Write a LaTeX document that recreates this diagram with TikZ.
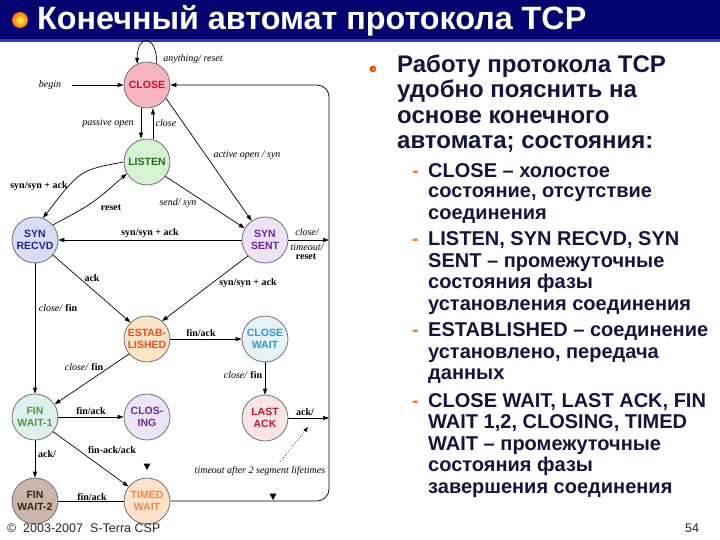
\documentclass[tikz,border=0pt]{standalone}
\usepackage{fontspec}
\setmainfont{Liberation Sans}
\newfontfamily\serifl{Liberation Serif}
\usetikzlibrary{arrows.meta,calc}
\definecolor{barnavy}{RGB}{4,4,112}
\definecolor{barstripe}{RGB}{58,58,184}
\definecolor{txtdark}{RGB}{20,20,60}
\definecolor{dashor}{RGB}{230,130,40}
\definecolor{edgegray}{RGB}{100,100,100}
\definecolor{fClose}{RGB}{245,181,191}\definecolor{tClose}{RGB}{200,16,46}
\definecolor{fListen}{RGB}{213,242,208}\definecolor{tListen}{RGB}{31,107,31}
\definecolor{fSR}{RGB}{217,220,245}\definecolor{tSR}{RGB}{26,42,138}
\definecolor{fSS}{RGB}{238,226,246}\definecolor{tSS}{RGB}{112,32,160}
\definecolor{fES}{RGB}{253,227,198}\definecolor{tES}{RGB}{232,80,26}
\definecolor{fCW}{RGB}{230,241,248}\definecolor{tCW}{RGB}{42,154,208}
\definecolor{fFA}{RGB}{221,240,238}\definecolor{tFA}{RGB}{74,154,58}
\definecolor{fCL}{RGB}{236,228,248}\definecolor{tCL}{RGB}{106,42,160}
\definecolor{fLA}{RGB}{249,228,230}\definecolor{tLA}{RGB}{192,26,58}
\definecolor{fFB}{RGB}{203,181,170}\definecolor{tFB}{RGB}{58,36,24}
\definecolor{fTW}{RGB}{253,225,200}\definecolor{tTW}{RGB}{232,138,74}
\begin{document}
\begin{tikzpicture}[x=1pt,y=-1pt,
  state/.style={circle,draw=edgegray,line width=0.7pt,minimum size=46pt,inner sep=0pt,
    align=center,font=\bfseries\fontsize{10.5}{12}\selectfont},
  conn/.style={draw=black,line width=0.7pt,-{Triangle[length=6pt,width=4pt]}},
  plain/.style={draw=black,line width=0.7pt},
  lab/.style={font=\serifl\fontsize{10}{11}\selectfont,inner sep=0pt},
  ilab/.style={font=\serifl\itshape\fontsize{10}{11}\selectfont,inner sep=0pt},
  blab/.style={font=\serifl\bfseries\fontsize{10}{11}\selectfont,inner sep=0pt},
  mainline/.style={anchor=base west,inner sep=0pt,text=txtdark,font=\bfseries\fontsize{24}{25}\selectfont},
  subline/.style={anchor=base west,inner sep=0pt,text=txtdark,font=\bfseries\fontsize{20}{21}\selectfont},
  dashmark/.style={anchor=base west,inner sep=0pt,text=dashor,font=\bfseries\fontsize{20}{21}\selectfont},
  foot/.style={anchor=base west,inner sep=0pt,text=black!85,font=\fontsize{12.5}{14}\selectfont}]
\useasboundingbox (0,0) rectangle (720,540);
\fill[white] (0,0) rectangle (720,540);
% title bar
\fill[barnavy] (0,0) rectangle (720,40);
\fill[barstripe] (0,39) rectangle (720,42.5);
\shade[inner color=yellow!70!white,outer color=orange!85!red] (20,20) circle (8);
\node[anchor=base west,inner sep=0pt,text=white,font=\bfseries\fontsize{32.3}{34}\selectfont] (title) at (37,30) {Конечный автомат протокола TCP};

% states
\node[state,fill=fClose,text=tClose] (c0) at (147,85) {CLOSE};
\node[state,fill=fListen,text=tListen] (l0) at (147,162) {LISTEN};
\node[state,fill=fSR,text=tSR] (sr) at (35,240) {SYN\\RECVD};
\node[state,fill=fSS,text=tSS] (ss) at (265,240) {SYN\\SENT};
\node[state,fill=fES,text=tES] (es) at (147,339) {ESTAB-\\LISHED};
\node[state,fill=fCW,text=tCW] (cw) at (265,339) {CLOSE\\WAIT};
\node[state,fill=fFA,text=tFA] (fa) at (35,417) {FIN\\WAIT-1};
\node[state,fill=fCL,text=tCL] (cl) at (147,417) {CLOS-\\ING};
\node[state,fill=fLA,text=tLA] (la) at (265,418) {LAST\\ACK};
\node[state,fill=fFB,text=tFB] (fb) at (35,501) {FIN\\WAIT-2};
\node[state,fill=fTW,text=tTW] (tw) at (147,501) {TIMED\\WAIT};

\coordinate (beg) at (72,85);
\coordinate (tr) at (329,85);
\coordinate (br) at (329,501);
\coordinate (d1) at (280,462);
\coordinate (d2) at (308,427);

% connectors
\draw[conn] (c0.65) .. controls +(0,-30) and +(0,-30) .. (c0.115);
\draw[conn] (beg) -- (c0);
\draw[conn] ([xshift=-6pt]c0.south) -- ([xshift=-6pt]l0.north);
\draw[conn] ([xshift=6pt]l0.north) -- ([xshift=6pt]c0.south);
\draw[conn] (c0.-35) -- (ss.125);
\draw[conn] (l0.180) .. controls (80,170) .. (sr.70);
\draw[conn] (sr.40) .. controls (92,204) .. (l0.210);
\draw[conn] (l0.-38) -- (ss.150);
\draw[conn] (ss) -- (sr);
\draw[conn] (ss) -- (ss -| tr);
\draw[conn] (sr.-40) -- (es.135);
\draw[conn] (ss.-137) -- (es.50);
\draw[conn] (sr) -- (fa);
\draw[conn] (es) -- (cw);
\draw[conn] (es.-140) -- (fa.33);
\draw[conn] (cw) -- (la);
\draw[conn] (la) -- (la -| tr);
\draw[conn] (fa) -- (cl);
\draw[conn] (fa.-39) -- (tw.142);
\draw[conn] (fa) -- (fb);
\draw[plain] (fb) -- (tw);
\draw[conn,rounded corners=12pt] (tw) -- (br) -- (tr) -- (c0);
\draw[line width=0.7pt,dotted,-{Triangle[length=5pt,width=3.5pt]}] (d1) -- (d2);
% stray arrow tips
\fill (143.5,463.5) -- (150.5,463.5) -- (147,470) -- cycle;
\fill (269.5,493.5) -- (276.5,493.5) -- (273,500) -- cycle;

% labels
\node[ilab] (t1) at (193,59) {anything/ reset};
\node[ilab] (t2) at (50,85) {begin};
\node[ilab] (t3) at (108,123) {passive open};
\node[ilab] (t4) at (166,123) {close};
\node[ilab] (t5) at (247,155) {active open / syn};
\node[blab] (t6) at (39,186) {syn/syn + ack};
\node[blab] (t7) at (111,208) {reset};
\node[ilab] (t8) at (178,203) {send/ syn};
\node[blab] (t9) at (150,233) {syn/syn + ack};
\node[ilab] (t10) at (307,232) {close/};
\node[ilab] (t11) at (307,247) {timeout/};
\node[blab] (t12) at (306,257) {reset};
\node[blab] (t13) at (92,278) {ack};
\node[blab] (t14) at (248,283) {syn/syn + ack};
\node[lab] (t15) at (58,308) {\textit{close/} \textbf{fin}};
\node[blab] (t16) at (201,333) {fin/ack};
\node[lab] (t17) at (84,367) {\textit{close/} \textbf{fin}};
\node[lab] (t18) at (243,375) {\textit{close/} \textbf{fin}};
\node[blab] (t19) at (91,411) {fin/ack};
\node[blab] (t20) at (305,412) {ack/};
\node[blab] (t21) at (112,450) {fin-ack/ack};
\node[blab] (t22) at (47,454) {ack/};
\node[blab] (t23) at (92,497) {fin/ack};
\node[ilab] (t24) at (260,471) {timeout after 2 segment lifetimes};

% right text
\shade[inner color=orange!60!yellow,outer color=red!80!orange] (373,69) circle (3.3);
\node[mainline] (m1) at (397,73) {Работу протокола TCP};
\node[mainline] (m2) at (397,98) {удобно пояснить на};
\node[mainline] (m3) at (397,123.5) {основе конечного};
\node[mainline] (m4) at (397,149) {автомата; состояния:};

\node[dashmark] (k1) at (412,177.5) {-};
\node[subline] (s1) at (428,177.5) {CLOSE – холостое};
\node[subline] (s2) at (428,198) {состояние, отсутствие};
\node[subline] (s3) at (428,219) {соединения};
\node[dashmark] (k2) at (412,245.5) {-};
\node[subline] (s4) at (428,245.5) {LISTEN, SYN RECVD, SYN};
\node[subline] (s5) at (428,267) {SENT – промежуточные};
\node[subline] (s6) at (428,288.5) {состояния фазы};
\node[subline] (s7) at (428,310) {установления соединения};
\node[dashmark] (k3) at (412,336.5) {-};
\node[subline] (s8) at (428,336.5) {ESTABLISHED – соединение};
\node[subline] (s9) at (428,358) {установлено, передача};
\node[subline] (s10) at (428,379.5) {данных};
\node[dashmark] (k4) at (412,407) {-};
\node[subline] (s11) at (428,407) {CLOSE WAIT, LAST ACK, FIN};
\node[subline] (s12) at (428,428.5) {WAIT 1,2, CLOSING, TIMED};
\node[subline] (s13) at (428,450) {WAIT – промежуточные};
\node[subline] (s14) at (428,471.5) {состояния фазы};
\node[subline] (s15) at (428,493) {завершения соединения};

% footer
\node[foot] (f1) at (7,532) {©};
\node[foot] (f2) at (23,532) {2003-2007};
\node[foot] (f3) at (90,532) {S-Terra CSP};
\node[foot] (f4) at (685,532) {54};
\end{tikzpicture}
\end{document}
